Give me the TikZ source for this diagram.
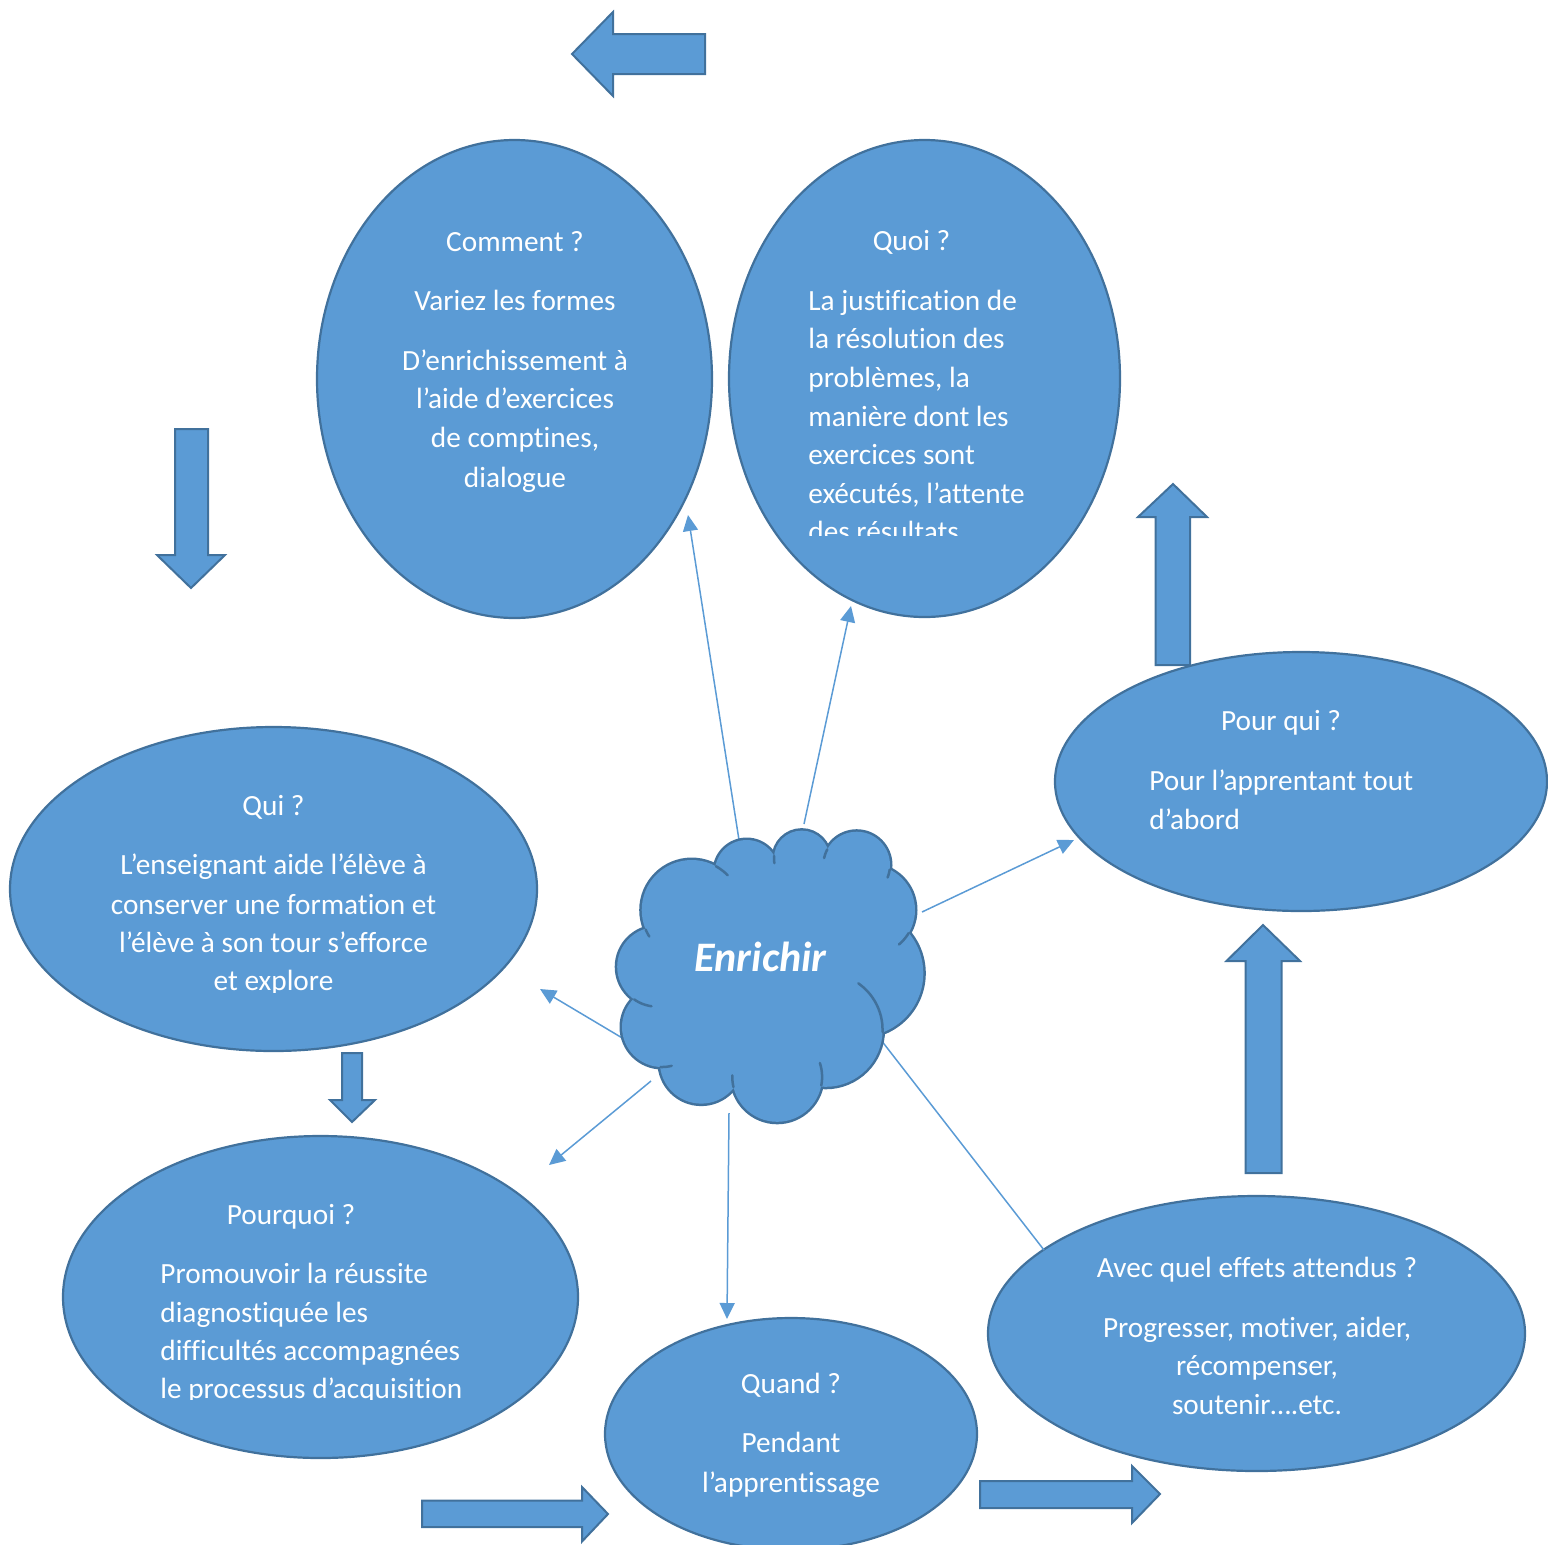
\documentclass[tikz,border=0pt]{standalone}
\usepackage{fontspec}
\setmainfont{Carlito}[Ligatures={NoCommon}]
\usetikzlibrary{shapes.geometric,arrows.meta}
\definecolor{bfill}{HTML}{5B9BD5}
\definecolor{bline}{HTML}{41719C}
\begin{document}
\begin{tikzpicture}[x=0.5pt,y=-0.5pt,
  bubble/.style={ellipse, draw=bline, fill=bfill, line width=1.1pt, inner sep=0pt, outer sep=0pt},
  barrow/.style={draw=bline, fill=bfill, line width=1pt, line join=miter},
  conn/.style={draw=bfill, line width=0.75pt, -{Triangle[length=8pt,width=7.5pt]}},
  txt/.style={text=white, inner sep=0pt, font=\fontsize{14.65}{19.25}\selectfont},
  stub/.style={draw=bline, line width=1.25pt, line cap=round}]
\clip (0,0) rectangle (1548,1544);

% ellipses
\node[bubble, minimum width=197.5pt, minimum height=239pt] (comment) at (514.5,379) {};
\node[bubble, minimum width=195.5pt, minimum height=238.5pt] (quoi) at (924.5,378.5) {};
\node[bubble, minimum width=246pt, minimum height=129.5pt] (pourqui) at (1301,781.5) {};
\node[bubble, minimum width=263.5pt, minimum height=162pt] (qui) at (273.5,889) {};
\node[bubble, minimum width=257.5pt, minimum height=161pt] (pourquoi) at (320.5,1297) {};
\node[bubble, minimum width=186pt, minimum height=116pt] (quand) at (791,1434) {};
\node[bubble, minimum width=268.5pt, minimum height=137.5pt] (avec) at (1256.5,1333.5) {};

% block arrows
\draw[barrow] (572,54) -- (613,12) -- (613,34) -- (705,34) -- (705,74) -- (613,74) -- (613,96) -- cycle;
\draw[barrow] (175,429) -- (208,429) -- (208,555) -- (225,555) -- (191,588) -- (157,555) -- (175,555) -- cycle;
\draw[barrow] (1173,484) -- (1207,517) -- (1190,517) -- (1190,665) -- (1155.5,665) -- (1155.5,517) -- (1138,517) -- cycle;
\draw[barrow] (1263,925) -- (1300,961) -- (1281.5,961) -- (1281.5,1173) -- (1245.5,1173) -- (1245.5,961) -- (1226.5,961) -- cycle;
\draw[barrow] (342,1053) -- (362,1053) -- (362,1100) -- (375,1100) -- (352,1122) -- (330,1100) -- (342,1100) -- cycle;
\draw[barrow] (422,1500.5) -- (582,1500.5) -- (582,1487) -- (608,1514) -- (582,1541.5) -- (582,1527) -- (422,1527) -- cycle;
\draw[barrow] (980,1481) -- (1132,1481) -- (1132,1466) -- (1160,1494) -- (1132,1523) -- (1132,1508) -- (980,1508) -- cycle;

% connectors
\coordinate (e1) at (739,840);  \coordinate (t1) at (688,515);
\coordinate (e2) at (804,824);  \coordinate (t2) at (851,606);
\coordinate (e3) at (922,912);  \coordinate (t3) at (1074,840);
\coordinate (e4) at (624,1039); \coordinate (t4) at (540,989);
\coordinate (e5) at (651,1081); \coordinate (t5) at (549,1165);
\coordinate (e6) at (729,1113); \coordinate (t6) at (727,1319);
\coordinate (e7) at (881,1040); \coordinate (t7) at (1044,1250);
\draw[conn] (e1) -- (t1);
\draw[conn] (e2) -- (t2);
\draw[conn] (e3) -- (t3);
\draw[conn] (e4) -- (t4);
\draw[conn] (e5) -- (t5);
\draw[conn] (e6) -- (t6);
\draw[conn, -] (e7) -- (t7);

% cloud
\def\cloudlist{691.7/910/50, 746.7/871.7/31.7, 801.7/858.3/27.7, 856.7/865/33.3, 870/910/45, 860/973.3/63.3, 825.7/1029.9/56.9, 777.2/1076.9/44.9, 701.2/1062.3/41.3, 662/1027/40, 657/966.8/39.8}
\draw[bline, line width=2.5pt] \foreach \cx/\cy/\r in \cloudlist {(\cx,\cy) circle[radius=\r]};
\fill[bfill] \foreach \cx/\cy/\r in \cloudlist {(\cx,\cy) circle[radius=\r]};
\fill[bfill] (691.7,910) -- (746.7,871.7) -- (801.7,858.3) -- (856.7,865) -- (870,910) -- (860,973.3) -- (825.7,1029.9) -- (777.2,1076.9) -- (701.2,1062.3) -- (662,1027) -- (657,966.8) -- cycle;
\foreach \cx/\cy/\r/\a/\b in {691.7/910/50/-61/-44, 801.7/858.3/27.7/185/170, 856.7/865/33.3/208/192, 856.7/865/33.3/8/22, 870/910/45/31/50, 825.7/1029.9/56.9/-55/2, 777.2/1076.9/44.9/11/-18, 777.2/1076.9/44.9/167/182, 662/1027/40/92/76, 657/966.8/39.8/125/98, 691.7/910/50/157/148}
  \draw[stub] plot[smooth, domain=\a:\b, samples=8, variable=\t] ({\cx+\r*cos(\t)},{\cy+\r*sin(\t)});
\node[text=white, inner sep=0pt, font=\fontsize{21}{25}\selectfont\bfseries\itshape, anchor=base] (enr) at (760.5,971) {Enrichir};

% texts
\foreach \s/\y [count=\i] in {Comment ?/251, Variez les formes/310, D’enrichissement à/370, l’aide d’exercices/408, {de comptines,}/447, dialogue/487}
  \node[txt, anchor=base] (cm\i) at (515,\y) {\s};

\node[txt, anchor=base] (qo0) at (911.5,250) {Quoi ?};
\foreach \s/\y [count=\i] in {La justification de/310, la résolution des/348, {problèmes, la}/387, manière dont les/426, exercices sont/464, {exécutés, l’attente}/503}
  \node[txt, anchor=base west] (qo\i) at (808,\y) {\s};
\begin{scope}
\clip (700,100) rectangle (1130,535);
\node[txt, anchor=base west] (qo7) at (808,541) {des résultats};
\end{scope}

\foreach \s/\y [count=\i] in {Qui ?/815, L’enseignant aide l’élève à/874, conserver une formation et/914, l’élève à son tour s’efforce/952}
  \node[txt, anchor=base] (qu\i) at (273.5,\y) {\s};
\begin{scope}
\clip (0,700) rectangle (560,992.5);
\node[txt, anchor=base] (qu5) at (273.5,990.5) {et explore};
\end{scope}

\node[txt, anchor=base] (pq0) at (1281,730) {Pour qui ?};
\node[txt, anchor=base west] (pq1) at (1149,790) {Pour l’apprentant tout};
\node[txt, anchor=base west] (pq2) at (1149,829) {d’abord};

\node[txt, anchor=base] (pr0) at (291,1224) {Pourquoi ?};
\foreach \s/\y [count=\i] in {Promouvoir la réussite/1283, diagnostiquée les/1322, difficultés accompagnées/1360}
  \node[txt, anchor=base west] (pr\i) at (160,\y) {\s};
\begin{scope}
\clip (0,1100) rectangle (600,1399.5);
\node[txt, anchor=base west] (pr4) at (160,1398.5) {le processus d’acquisition};
\end{scope}

\foreach \s/\y [count=\i] in {Quand ?/1393, Pendant/1452, l’apprentissage/1492}
  \node[txt, anchor=base] (qd\i) at (791,\y) {\s};

\foreach \s/\y [count=\i] in {Avec quel effets attendus ?/1277, {Progresser, motiver, aider,}/1337, {récompenser,}/1375, soutenir….etc./1414}
  \node[txt, anchor=base] (av\i) at (1257,\y) {\s};
\end{tikzpicture}
\end{document}
